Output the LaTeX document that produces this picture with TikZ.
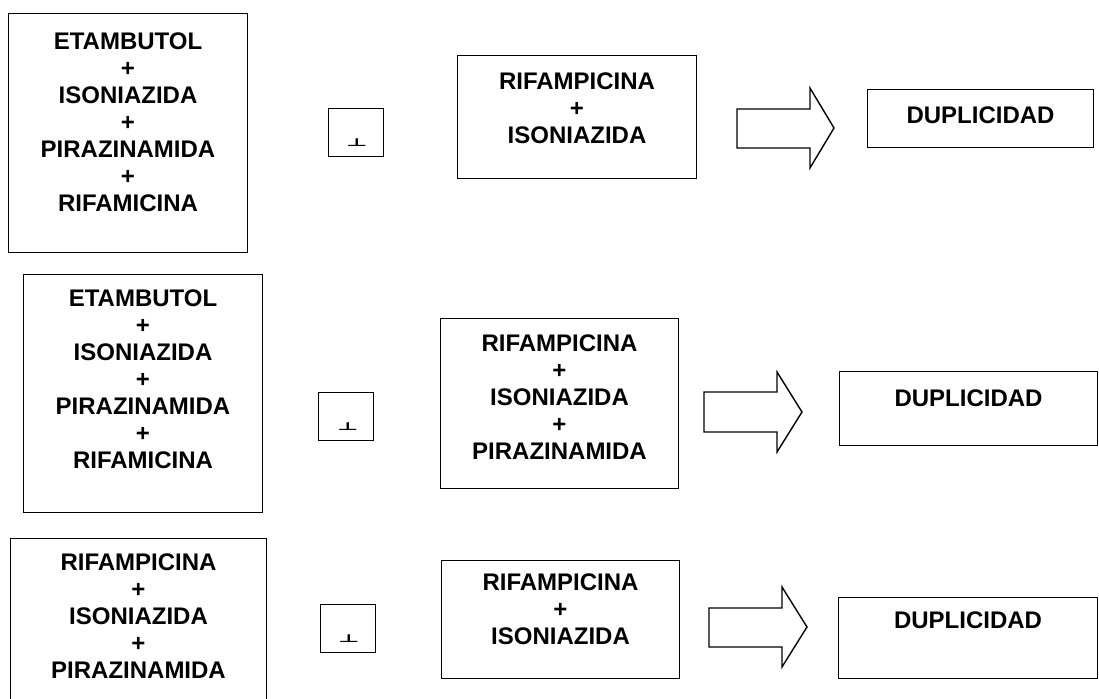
\documentclass[tikz,border=0pt]{standalone}
\usepackage{fontspec}
\setmainfont{Liberation Sans}
\newfontfamily\symfont{DejaVu Sans}
\usetikzlibrary{positioning}

\tikzset{
  drugbox/.style = {draw, line width=0.5pt, inner sep=0pt, anchor=north west},
  drugtext/.style = {inner sep=0pt, align=center,
    font=\fontsize{12}{13.5}\selectfont\bfseries},
  markbox/.style = {draw, line width=0.5pt, inner sep=0pt, anchor=north west,
    minimum width=27.5pt, minimum height=24pt},
  perpsign/.style = {inner sep=0pt, anchor=base},
  blockarrow/.style = {draw, line width=0.7pt, line join=miter}
}
\newcommand{\perpmark}{\scalebox{2.3}[1.1]{\fontsize{5}{6}\symfont\bfseries ⊥}}

\begin{document}
\begin{tikzpicture}[x=0.5pt, y=-0.5pt]
  \useasboundingbox (0,0) rectangle (1099,699);

  % first row
  \node[drugbox, minimum width=119.5pt, minimum height=119.5pt] (combo1) at (8,13) {};
  \node[drugtext, below=9.7pt of combo1.north] (combo1txt)
    {ETAMBUTOL\\+\\ISONIAZIDA\\+\\PIRAZINAMIDA\\+\\RIFAMICINA};
  \node[markbox] (sign1) at (328,108) {};
  \node[perpsign] (perp1) at (357,147) {\perpmark};
  \node[drugbox, minimum width=119.5pt, minimum height=61.5pt] (pair1) at (457,55) {};
  \node[drugtext, below=8.7pt of pair1.north] (pair1txt) {RIFAMPICINA\\+\\ISONIAZIDA};
  \draw[blockarrow] (737,109) -- ++(73,0) -- ++(0,-21) -- ++(24,40)
    -- ++(-24,40) -- ++(0,-20) -- ++(-73,0) -- cycle;
  \node[drugbox, minimum width=113pt, minimum height=29pt] (dup1) at (867,89) {};
  \node[drugtext, below=8.7pt of dup1.north] (dup1txt) {DUPLICIDAD};

  % second row
  \node[drugbox, minimum width=119.5pt, minimum height=119pt] (combo2) at (23,274) {};
  \node[drugtext, below=7.7pt of combo2.north] (combo2txt)
    {ETAMBUTOL\\+\\ISONIAZIDA\\+\\PIRAZINAMIDA\\+\\RIFAMICINA};
  \node[markbox] (sign2) at (318,392) {};
  \node[perpsign] (perp2) at (348,431) {\perpmark};
  \node[drugbox, minimum width=119pt, minimum height=85pt] (pair2) at (440,318) {};
  \node[drugtext, below=8.2pt of pair2.north] (pair2txt)
    {RIFAMPICINA\\+\\ISONIAZIDA\\+\\PIRAZINAMIDA};
  \draw[blockarrow] (704,392) -- ++(73,0) -- ++(0,-20) -- ++(25,40)
    -- ++(-25,40) -- ++(0,-20) -- ++(-73,0) -- cycle;
  \node[drugbox, minimum width=129pt, minimum height=37pt] (dup2) at (839,371) {};
  \node[drugtext, below=9.2pt of dup2.north] (dup2txt) {DUPLICIDAD};

  % third row
  \node[drugbox, minimum width=128pt, minimum height=86pt] (combo3) at (10,538) {};
  \node[drugtext, below=7.7pt of combo3.north] (combo3txt)
    {RIFAMPICINA\\+\\ISONIAZIDA\\+\\PIRAZINAMIDA};
  \node[markbox] (sign3) at (320,604) {};
  \node[perpsign] (perp3) at (349,643) {\perpmark};
  \node[drugbox, minimum width=119pt, minimum height=59pt] (pair3) at (441,560) {};
  \node[drugtext, below=6.7pt of pair3.north] (pair3txt) {RIFAMPICINA\\+\\ISONIAZIDA};
  \draw[blockarrow] (709,608) -- ++(73,0) -- ++(0,-21) -- ++(25,40)
    -- ++(-25,40) -- ++(0,-20) -- ++(-73,0) -- cycle;
  \node[drugbox, minimum width=129.5pt, minimum height=40.5pt] (dup3) at (838,597) {};
  \node[drugtext, below=7.2pt of dup3.north] (dup3txt) {DUPLICIDAD};
\end{tikzpicture}
\end{document}
